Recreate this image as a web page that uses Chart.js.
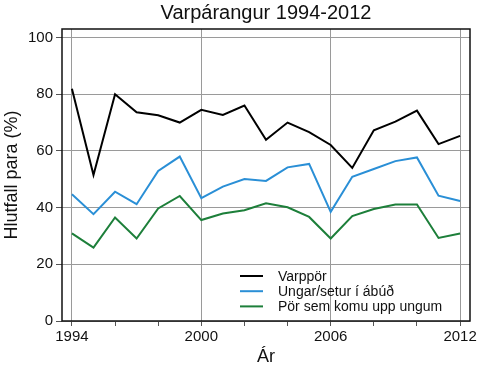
<!DOCTYPE html>
<html>
<head>
<meta charset="utf-8">
<script src="https://cdn.jsdelivr.net/npm/chart.js@4/dist/chart.umd.min.js"></script>
<style>
html,body{margin:0;padding:0;background:#fff;}
#wrap{width:480px;height:371px;}
</style>
</head>
<body>
<div id="wrap"><canvas id="c" width="480" height="371"></canvas></div>
<script>
const years = [1994,1995,1996,1997,1998,1999,2000,2001,2002,2003,2004,2005,2006,2007,2008,2009,2010,2011,2012];
const varppor = [81.9,51.5,80.0,73.6,72.6,70.0,74.5,72.7,76.0,63.9,70.0,66.6,62.1,54.0,67.3,70.3,74.2,62.4,65.3];
const ungar = [44.7,37.7,45.6,41.2,52.9,58.0,43.3,47.4,50.1,49.4,54.2,55.4,38.5,50.9,53.6,56.4,57.7,44.2,42.3];
const porUngum = [30.9,25.9,36.5,29.1,39.7,44.1,35.6,37.9,39.1,41.5,40.1,36.7,29.1,37.0,39.5,41.1,41.1,29.3,30.9];
const seriesNames = ["Varppör","Ungar/setur í ábúð","Pör sem komu upp ungum"];
const xTicks = [1994,1996,1998,2000,2002,2004,2006,2008,2010,2012];
const xLabelTicks = [1994,2000,2006,2012];
const yTicks = [0,20,40,60,80,100];

const FONT = "'Liberation Sans', Arial, sans-serif";
const toPts = arr => arr.map((v,i)=>({x:years[i], y:v}));

const insideLegend = {
  id:'insideLegend',
  afterDraw(chart){
    const {ctx, chartArea:a} = chart;
    ctx.save();
    // plot border
    ctx.strokeStyle = '#111';
    ctx.lineWidth = 1.5;
    ctx.strokeRect(a.left, a.top, a.right-a.left, a.bottom-a.top);
    // legend
    const x0 = a.left + 178, x1 = a.left + 201, tx = a.left + 216;
    let y = a.top + 247;
    ctx.font = '14px ' + FONT;
    ctx.textBaseline = 'middle';
    ctx.textAlign = 'left';
    chart.data.datasets.forEach(ds=>{
      ctx.strokeStyle = ds.borderColor;
      ctx.lineWidth = 2;
      ctx.beginPath(); ctx.moveTo(x0,y); ctx.lineTo(x1,y); ctx.stroke();
      ctx.fillStyle = '#111';
      ctx.fillText(ds.label, tx, y+1);
      y += 15.2;
    });
    ctx.restore();
  }
};

new Chart(document.getElementById('c'), {
  type:'line',
  data:{
    datasets:[
      {label:seriesNames[0], data:toPts(varppor), borderColor:'#000000', borderWidth:2, pointRadius:0, tension:0, fill:false},
      {label:seriesNames[1], data:toPts(ungar), borderColor:'#2a8fd6', borderWidth:2, pointRadius:0, tension:0, fill:false},
      {label:seriesNames[2], data:toPts(porUngum), borderColor:'#1d7f3a', borderWidth:2, pointRadius:0, tension:0, fill:false}
    ]
  },
  options:{
    responsive:false,
    animation:false,
    layout:{padding:{right:10, left:0, top:0, bottom:0}},
    plugins:{
      legend:{display:false},
      tooltip:{enabled:false},
      title:{display:true, text:'Varpárangur 1994-2012', fullSize:false, color:'#111',
        font:{family:FONT, size:20, weight:'normal'}, padding:{top:1,bottom:4}}
    },
    scales:{
      x:{
        type:'linear', min:1993.54, max:2012.46,
        afterBuildTicks: s => { s.ticks = xTicks.map(v=>({value:v})); },
        afterFit: s => { s.height = 50; },
        ticks:{ autoSkip:false, maxRotation:0, color:'#111', padding:2,
          font:{family:FONT, size:15},
          callback: v => xLabelTicks.includes(v) ? String(v) : '' },
        grid:{ drawOnChartArea:true, tickLength:5, lineWidth:1,
          color: c => (c.tick && xLabelTicks.includes(c.tick.value)) ? '#9a9a9a' : 'rgba(0,0,0,0)',
          tickColor:'#555' },
        border:{display:false},
        title:{display:true, text:'Ár', color:'#111', font:{family:FONT, size:18}, padding:{top:0,bottom:3}}
      },
      y:{
        type:'linear', min:0, max:103,
        afterBuildTicks: s => { s.ticks = yTicks.map(v=>({value:v})); },
        afterFit: s => { s.width = 62; },
        ticks:{ color:'#111', padding:3, font:{family:FONT, size:15} },
        grid:{ tickLength:6, lineWidth:1, color:'#9a9a9a', tickColor:'#555' },
        border:{display:false},
        title:{display:true, text:'Hlutfall para (%)', color:'#111', font:{family:FONT, size:18}, padding:{top:1,bottom:0}}
      }
    }
  },
  plugins:[insideLegend]
});
</script>
</body>
</html>
